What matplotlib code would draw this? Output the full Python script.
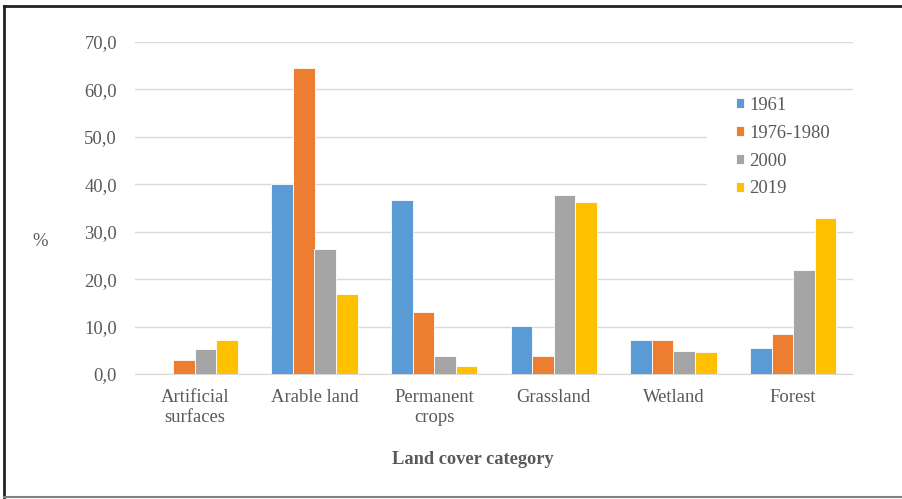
import matplotlib.pyplot as plt
import numpy as np
from matplotlib.patches import Rectangle
from matplotlib.lines import Line2D

categories = ['Artificial\nsurfaces', 'Arable land', 'Permanent\ncrops', 'Grassland', 'Wetland', 'Forest']
series = ['1961', '1976-1980', '2000', '2019']
v1961 = [0.0, 40.1, 36.6, 10.2, 7.2, 5.4]
v1976 = [2.9, 64.6, 13.0, 3.9, 7.1, 8.4]
v2000 = [5.3, 26.3, 3.7, 37.8, 4.8, 21.9]
v2019 = [7.2, 16.9, 1.7, 36.3, 4.6, 32.8]
colors = ['#5B9BD5', '#ED7D31', '#A5A5A5', '#FFC000']
yticks = [0, 10, 20, 30, 40, 50, 60, 70]

plt.rcParams['font.family'] = ['Liberation Serif', 'DejaVu Serif']
txt = '#595959'
W, H = 903, 499

fig = plt.figure(figsize=(9.03, 4.99), dpi=100)
ax = fig.add_axes([135 / W, 1 - 374 / H, 718 / W, 332 / H])

x = np.arange(len(categories))
w = 0.181
for i, (vals, name) in enumerate(zip([v1961, v1976, v2000, v2019], series)):
    ax.bar(x + (i - 1.5) * w, vals, w, color=colors[i], label=name,
           edgecolor='white', linewidth=0.6, zorder=3)

ax.set_xlim(-0.5, len(categories) - 0.5)
ax.set_ylim(0, 70)
ax.set_yticks(yticks)
ax.set_yticklabels([f'{t:.1f}'.replace('.', ',') for t in yticks], fontsize=13.4, color=txt)
ax.set_xticks(x)
ax.set_xticklabels(categories, fontsize=13.4, color=txt, linespacing=1.2)
ax.tick_params(length=0)
ax.tick_params(axis='x', pad=11)
ax.tick_params(axis='y', pad=13)
ax.grid(axis='y', color='#d9d9d9', linewidth=1, zorder=0)
for s in ['top', 'right', 'left']:
    ax.spines[s].set_visible(False)
ax.spines['bottom'].set_color('#d9d9d9')

# white legend area hides the gridlines behind it
ax.add_patch(Rectangle((707 / W, 1 - 202 / H), 150 / W, 106 / H, transform=fig.transFigure,
                       facecolor='white', edgecolor='none', zorder=2, clip_on=False))

fig.text(473 / W, 1 - 460 / H, 'Land cover category', fontsize=13.2, fontweight='bold',
         color=txt, ha='center', va='center')
fig.text(40 / W, 1 - 242 / H, '%', fontsize=13.4, color=txt, ha='center', va='center')

leg = ax.legend(loc='upper left', bbox_to_anchor=(736 / W, 1 - 97 / H),
                bbox_transform=fig.transFigure, frameon=False, fontsize=13.4,
                handlelength=0.43, handleheight=0.43, labelspacing=0.58,
                handletextpad=0.27, borderpad=0, borderaxespad=0)
for t in leg.get_texts():
    t.set_color(txt)

# outer frame: dark top and left, grey bottom
fig.add_artist(Line2D([4 / W, 1], [1 - 6 / H, 1 - 6 / H], transform=fig.transFigure,
                      color='#222222', linewidth=2))
fig.add_artist(Line2D([4 / W, 4 / W], [1 - 6 / H, 1 - 497 / H], transform=fig.transFigure,
                      color='#222222', linewidth=2))
fig.add_artist(Line2D([4 / W, 1], [1 - 497 / H, 1 - 497 / H], transform=fig.transFigure,
                      color='#808080', linewidth=1.5))

fig.savefig('out.png', dpi=100)
